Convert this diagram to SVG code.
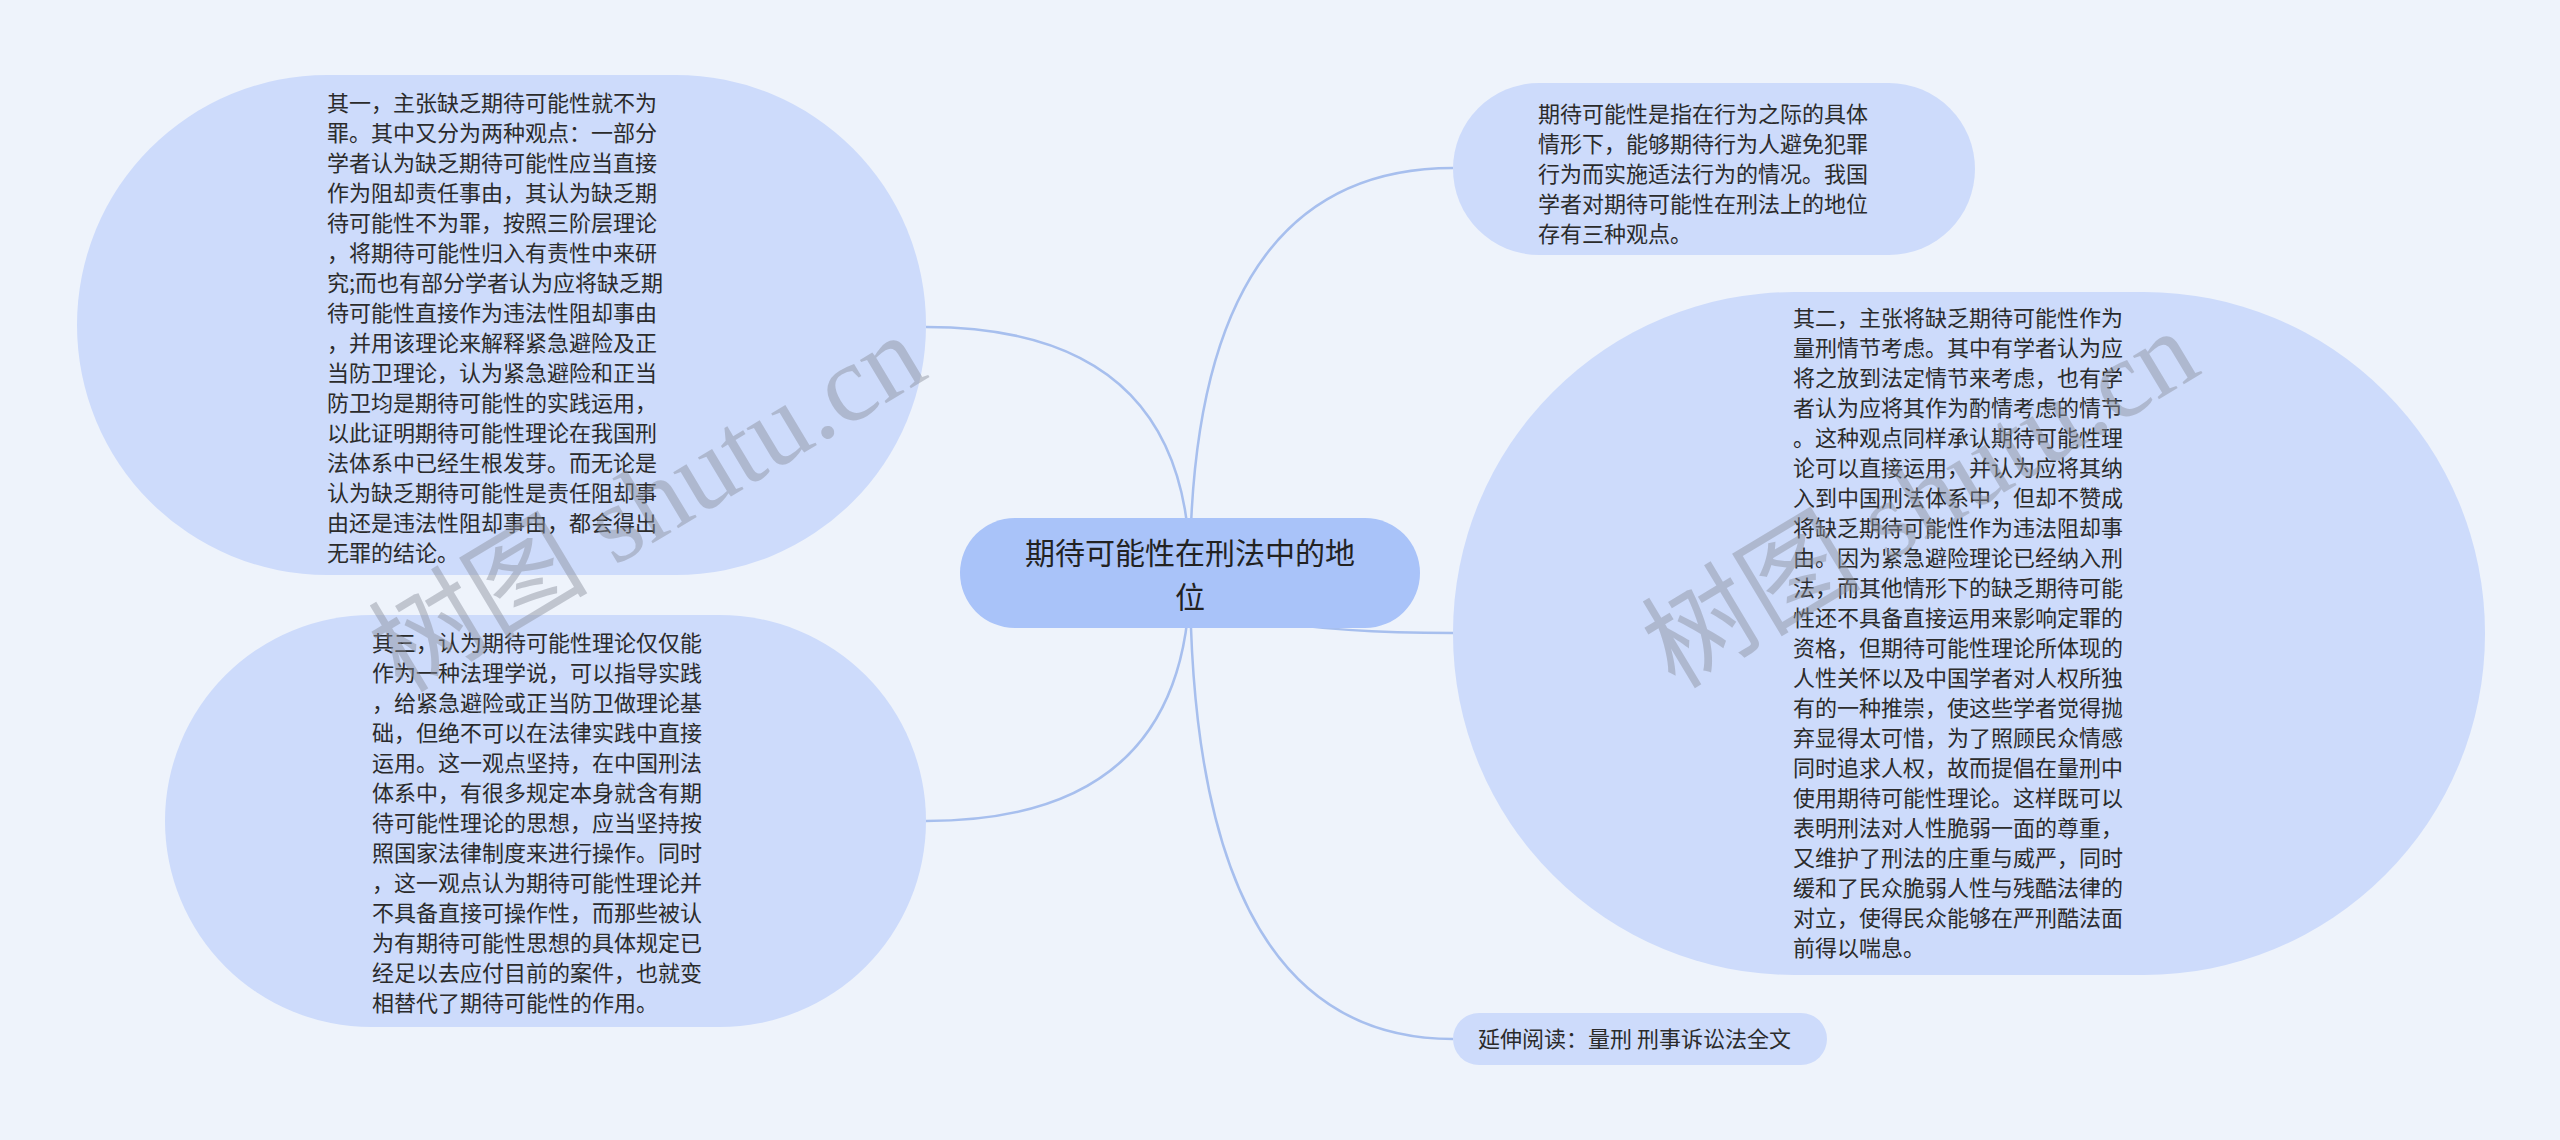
<svg xmlns="http://www.w3.org/2000/svg" width="2560" height="1140" viewBox="0 0 2560 1140">
<style>
.bg{fill:#eef3fb}
.node{fill:#cddbfb}
.root{fill:#a9c3f9}
.t{font-family:"Noto Sans CJK SC","Noto Sans",sans-serif;font-size:22px;fill:#2b2b2b}
.rt{font-family:"Noto Sans CJK SC","Noto Sans",sans-serif;font-size:30px;fill:#222;text-anchor:middle}
.edge{fill:none;stroke:#a7bfee;stroke-width:2.5}
.wm{font-family:"Liberation Serif","Noto Sans CJK SC",serif;font-size:110px;fill:#8a8f9c;opacity:0.45}
</style>
<rect class="bg" x="0" y="0" width="2560" height="1140"/>
<g id="connectors">
<path class="edge" d="M1190 573 Q1190 327 926 327"/>
<path class="edge" d="M1190 573 Q1190 821 926 821"/>
<path class="edge" d="M1190 573 Q1190 168 1453 168"/>
<path class="edge" d="M1190 573 Q1190 633 1453 633"/>
<path class="edge" d="M1190 573 Q1190 1039 1453 1039"/>
</g>
<g id="root">
<rect class="root" x="960" y="518" width="460" height="110" rx="55"/>
<text class="rt" x="1190" y="564">期待可能性在刑法中的地</text>
<text class="rt" x="1190" y="608">位</text>
</g>
<g id="node1">
<rect class="node" x="77" y="75" width="849" height="500" rx="250"/>
<text class="t" x="327" y="111">其一，主张缺乏期待可能性就不为</text>
<text class="t" x="327" y="141">罪。其中又分为两种观点：一部分</text>
<text class="t" x="327" y="171">学者认为缺乏期待可能性应当直接</text>
<text class="t" x="327" y="201">作为阻却责任事由，其认为缺乏期</text>
<text class="t" x="327" y="231">待可能性不为罪，按照三阶层理论</text>
<text class="t" x="327" y="261">，将期待可能性归入有责性中来研</text>
<text class="t" x="327" y="291">究;而也有部分学者认为应将缺乏期</text>
<text class="t" x="327" y="321">待可能性直接作为违法性阻却事由</text>
<text class="t" x="327" y="351">，并用该理论来解释紧急避险及正</text>
<text class="t" x="327" y="381">当防卫理论，认为紧急避险和正当</text>
<text class="t" x="327" y="411">防卫均是期待可能性的实践运用，</text>
<text class="t" x="327" y="441">以此证明期待可能性理论在我国刑</text>
<text class="t" x="327" y="471">法体系中已经生根发芽。而无论是</text>
<text class="t" x="327" y="501">认为缺乏期待可能性是责任阻却事</text>
<text class="t" x="327" y="531">由还是违法性阻却事由，都会得出</text>
<text class="t" x="327" y="561">无罪的结论。</text>
</g>
<g id="node4">
<rect class="node" x="165" y="615" width="761" height="412" rx="206"/>
<text class="t" x="372" y="651">其三，认为期待可能性理论仅仅能</text>
<text class="t" x="372" y="681">作为一种法理学说，可以指导实践</text>
<text class="t" x="372" y="711">，给紧急避险或正当防卫做理论基</text>
<text class="t" x="372" y="741">础，但绝不可以在法律实践中直接</text>
<text class="t" x="372" y="771">运用。这一观点坚持，在中国刑法</text>
<text class="t" x="372" y="801">体系中，有很多规定本身就含有期</text>
<text class="t" x="372" y="831">待可能性理论的思想，应当坚持按</text>
<text class="t" x="372" y="861">照国家法律制度来进行操作。同时</text>
<text class="t" x="372" y="891">，这一观点认为期待可能性理论并</text>
<text class="t" x="372" y="921">不具备直接可操作性，而那些被认</text>
<text class="t" x="372" y="951">为有期待可能性思想的具体规定已</text>
<text class="t" x="372" y="981">经足以去应付目前的案件，也就变</text>
<text class="t" x="372" y="1011">相替代了期待可能性的作用。</text>
</g>
<g id="node2">
<rect class="node" x="1453" y="83" width="522" height="172" rx="86"/>
<text class="t" x="1538" y="122">期待可能性是指在行为之际的具体</text>
<text class="t" x="1538" y="152">情形下，能够期待行为人避免犯罪</text>
<text class="t" x="1538" y="182">行为而实施适法行为的情况。我国</text>
<text class="t" x="1538" y="212">学者对期待可能性在刑法上的地位</text>
<text class="t" x="1538" y="242">存有三种观点。</text>
</g>
<g id="node3">
<rect class="node" x="1453" y="292" width="1032" height="683" rx="341"/>
<text class="t" x="1793" y="326">其二，主张将缺乏期待可能性作为</text>
<text class="t" x="1793" y="356">量刑情节考虑。其中有学者认为应</text>
<text class="t" x="1793" y="386">将之放到法定情节来考虑，也有学</text>
<text class="t" x="1793" y="416">者认为应将其作为酌情考虑的情节</text>
<text class="t" x="1793" y="446">。这种观点同样承认期待可能性理</text>
<text class="t" x="1793" y="476">论可以直接运用，并认为应将其纳</text>
<text class="t" x="1793" y="506">入到中国刑法体系中，但却不赞成</text>
<text class="t" x="1793" y="536">将缺乏期待可能性作为违法阻却事</text>
<text class="t" x="1793" y="566">由。因为紧急避险理论已经纳入刑</text>
<text class="t" x="1793" y="596">法，而其他情形下的缺乏期待可能</text>
<text class="t" x="1793" y="626">性还不具备直接运用来影响定罪的</text>
<text class="t" x="1793" y="656">资格，但期待可能性理论所体现的</text>
<text class="t" x="1793" y="686">人性关怀以及中国学者对人权所独</text>
<text class="t" x="1793" y="716">有的一种推崇，使这些学者觉得抛</text>
<text class="t" x="1793" y="746">弃显得太可惜，为了照顾民众情感</text>
<text class="t" x="1793" y="776">同时追求人权，故而提倡在量刑中</text>
<text class="t" x="1793" y="806">使用期待可能性理论。这样既可以</text>
<text class="t" x="1793" y="836">表明刑法对人性脆弱一面的尊重，</text>
<text class="t" x="1793" y="866">又维护了刑法的庄重与威严，同时</text>
<text class="t" x="1793" y="896">缓和了民众脆弱人性与残酷法律的</text>
<text class="t" x="1793" y="926">对立，使得民众能够在严刑酷法面</text>
<text class="t" x="1793" y="956">前得以喘息。</text>
</g>
<g id="node5">
<rect class="node" x="1453" y="1013" width="374" height="52" rx="26"/>
<text class="t" x="1478" y="1047">延伸阅读：量刑 刑事诉讼法全文</text>
</g>
<g id="watermark">
<text class="wm" x="649" y="540" text-anchor="middle" transform="rotate(-31 649 506)">树图 shutu.cn</text>
<text class="wm" x="1922" y="536" text-anchor="middle" transform="rotate(-31 1922 502)">树图 shutu.cn</text>
</g>
</svg>
